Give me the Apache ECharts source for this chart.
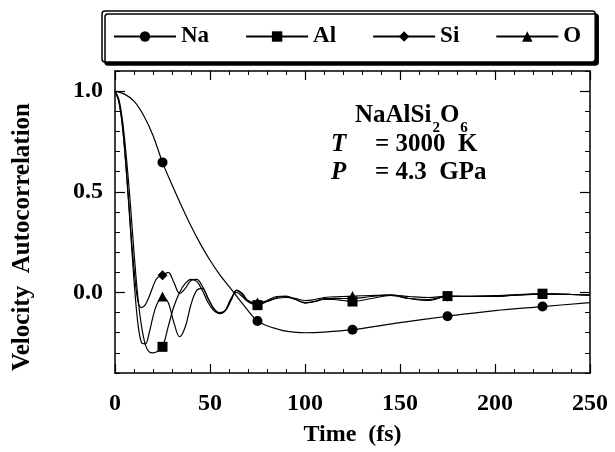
<!DOCTYPE html>
<html>
<head>
<meta charset="utf-8">
<style>
  body { margin: 0; background: #fff; }
  #container { width: 615px; height: 452px; }
</style>
</head>
<body>
<div id="container"></div>
<script src="https://cdn.jsdelivr.net/npm/echarts@6/dist/echarts.min.js"></script>
<script>
// time axis (fs) and velocity autocorrelation values
var naTime = [0, 5, 10, 15, 20, 25, 30, 35, 40, 45, 50, 55, 60, 65, 70, 75, 80, 85, 90, 100, 110, 125, 150, 175, 200, 225, 250];
var naVac = [1.0, 0.985, 0.95, 0.88, 0.78, 0.646, 0.535, 0.43, 0.33, 0.24, 0.16, 0.09, 0.03, -0.03, -0.09, -0.142, -0.165, -0.18, -0.192, -0.2, -0.197, -0.185, -0.15, -0.118, -0.09, -0.07, -0.05];

var fastTime = [0, 2, 4, 6, 8, 10, 12, 14, 16, 18, 20, 22, 25, 28, 31, 34, 37, 40, 43, 46, 49, 52, 55, 58, 61, 64, 67, 70, 75, 80, 85, 90, 95, 100, 105, 110, 115, 120, 125, 135, 145, 155, 165, 175, 185, 200, 212, 225, 240, 250];
var alVac = [1.0, 0.96, 0.85, 0.67, 0.45, 0.2, -0.02, -0.17, -0.26, -0.295, -0.30, -0.295, -0.27, -0.17, -0.07, 0.0, 0.045, 0.065, 0.055, 0.01, -0.05, -0.09, -0.105, -0.09, -0.04, 0.012, -0.01, -0.045, -0.063, -0.045, -0.025, -0.02, -0.035, -0.05, -0.045, -0.035, -0.035, -0.04, -0.045, -0.03, -0.015, -0.03, -0.035, -0.018, -0.02, -0.02, -0.012, -0.006, -0.01, -0.013];
var siVac = [1.0, 0.95, 0.82, 0.6, 0.35, 0.12, -0.04, -0.075, -0.06, -0.02, 0.03, 0.07, 0.085, 0.1, 0.05, -0.005, 0.02, 0.06, 0.065, 0.03, -0.03, -0.08, -0.1, -0.09, -0.04, 0.01, -0.005, -0.04, -0.055, -0.04, -0.02, -0.018, -0.035, -0.053, -0.045, -0.03, -0.03, -0.03, -0.03, -0.02, -0.012, -0.03, -0.04, -0.02, -0.02, -0.018, -0.012, -0.008, -0.01, -0.013];
var oVac = [1.0, 0.95, 0.82, 0.6, 0.33, 0.06, -0.15, -0.25, -0.255, -0.2, -0.12, -0.06, -0.02, -0.05, -0.15, -0.22, -0.17, -0.06, 0.01, 0.02, -0.03, -0.08, -0.105, -0.09, -0.03, 0.0, -0.02, -0.045, -0.05, -0.045, -0.03, -0.025, -0.03, -0.04, -0.035, -0.025, -0.022, -0.02, -0.018, -0.015, -0.013, -0.02, -0.025, -0.018, -0.018, -0.016, -0.012, -0.008, -0.01, -0.013];

var markerTimes = [25, 75, 125, 175, 225];
var yLabels = [0, 0.5, 1.0];

var font = 'Liberation Serif';

function pairs(ts, vs) {
  return ts.map(function (t, i) { return [t, vs[i]]; });
}

function makeSeries(name, symbol, ts, vs) {
  return {
    name: name,
    type: 'line',
    smooth: 0.35,
    symbol: symbol,
    symbolSize: function (val) {
      return markerTimes.indexOf(val[0]) >= 0 ? 10 : 0;
    },
    showAllSymbol: true,
    xAxisIndex: 0,
    yAxisIndex: 0,
    data: pairs(ts, vs),
    lineStyle: { color: '#000', width: 1.2 },
    itemStyle: { color: '#000', borderWidth: 0 },
    z: 3
  };
}

var chart = echarts.init(document.getElementById('container'), null, { renderer: 'canvas' });

var hidden = { show: false };
var xBase = {
  type: 'value', min: 0, max: 250, interval: 50,
  axisLine: { onZero: false, lineStyle: { color: '#000', width: 1.5 } },
  axisTick: { inside: true, length: 9, lineStyle: { color: '#000', width: 1.2 } },
  minorTick: { show: true, splitNumber: 5, length: 4, lineStyle: { color: '#000', width: 1 } },
  splitLine: hidden
};
var yMinor = {
  type: 'value', min: -0.4, max: 1.1, interval: 0.1,
  axisLine: { show: true, onZero: false, lineStyle: { color: '#000', width: 1.5 } },
  axisTick: { inside: true, length: 5, lineStyle: { color: '#000', width: 1 } },
  splitLine: hidden
};
var yMajor = {
  type: 'value', min: -0.4, max: 1.1, interval: 0.1,
  axisLine: { show: false, onZero: false },
  axisLabel: hidden,
  axisTick: { inside: true, length: 10, customValues: yLabels, lineStyle: { color: '#000', width: 1.2 } },
  splitLine: hidden
};

// place the formula pieces one after another using measured widths
var ctx = document.createElement('canvas').getContext('2d');
function textWidth(str, f) { ctx.font = f; return ctx.measureText(str).width; }
var bigFont = 'bold 25px ' + font;
var subFont = 'bold 15px ' + font;
var fx0 = 355;
var fx1 = fx0 + textWidth('NaAlSi', bigFont) + 1;
var fx2 = fx1 + textWidth('2', subFont);
var fx3 = fx2 + textWidth('O', bigFont) + 1;

var option = {
  animation: false,
  backgroundColor: '#fff',
  grid: { left: 115, right: 25, top: 71, bottom: 71 },
  legend: {
    left: 102, top: 11,
    padding: [14, 14, 14, 11],
    itemGap: 36,
    itemWidth: 62,
    itemHeight: 13,
    borderColor: '#000',
    borderWidth: 1.5,
    borderRadius: 3,
    backgroundColor: '#fff',
    shadowColor: '#000',
    shadowBlur: 0,
    shadowOffsetX: 3,
    shadowOffsetY: 3,
    textStyle: { fontFamily: font, fontWeight: 'bold', fontSize: 23, color: '#000' },
    data: ['Na', 'Al', 'Si', 'O']
  },
  xAxis: [
    Object.assign({}, xBase, {
      position: 'bottom',
      name: 'Time  (fs)',
      nameLocation: 'middle',
      nameGap: 50,
      nameTextStyle: { fontFamily: font, fontWeight: 'bold', fontSize: 24, color: '#000' },
      axisLabel: { margin: 19, fontFamily: font, fontWeight: 'bold', fontSize: 24, color: '#000' }
    }),
    Object.assign({}, xBase, { position: 'top', axisLabel: hidden })
  ],
  yAxis: [
    Object.assign({}, yMinor, {
      position: 'left',
      name: 'Velocity  Autocorrelation',
      nameLocation: 'middle',
      nameGap: 80,
      nameTextStyle: { fontFamily: font, fontWeight: 'bold', fontSize: 25, color: '#000', padding: [0, 30, 0, 0] },
      axisLabel: {
        customValues: yLabels, margin: 12,
        fontFamily: font, fontWeight: 'bold', fontSize: 24, color: '#000',
        formatter: function (v) { return v.toFixed(1); }
      }
    }),
    Object.assign({}, yMajor, { position: 'left' }),
    Object.assign({}, yMinor, { position: 'right', axisLabel: hidden }),
    Object.assign({}, yMajor, { position: 'right' })
  ],
  graphic: [
    { type: 'text', left: fx0, top: 103, style: { text: 'NaAlSi', font: bigFont, fill: '#000' } },
    { type: 'text', left: fx1, top: 121, style: { text: '2', font: subFont, fill: '#000' } },
    { type: 'text', left: fx2, top: 103, style: { text: 'O', font: bigFont, fill: '#000' } },
    { type: 'text', left: fx3, top: 121, style: { text: '6', font: subFont, fill: '#000' } },
    { type: 'text', left: 331, top: 132, style: { text: 'T', font: 'italic bold 25px ' + font, fill: '#000' } },
    { type: 'text', left: 375, top: 132, style: { text: '= 3000  K', font: bigFont, fill: '#000' } },
    { type: 'text', left: 331, top: 160, style: { text: 'P', font: 'italic bold 25px ' + font, fill: '#000' } },
    { type: 'text', left: 375, top: 160, style: { text: '= 4.3  GPa', font: bigFont, fill: '#000' } }
  ],
  series: [
    makeSeries('Na', 'circle', naTime, naVac),
    makeSeries('Al', 'rect', fastTime, alVac),
    makeSeries('Si', 'diamond', fastTime, siVac),
    makeSeries('O', 'triangle', fastTime, oVac)
  ]
};

chart.setOption(option);
</script>
</body>
</html>
